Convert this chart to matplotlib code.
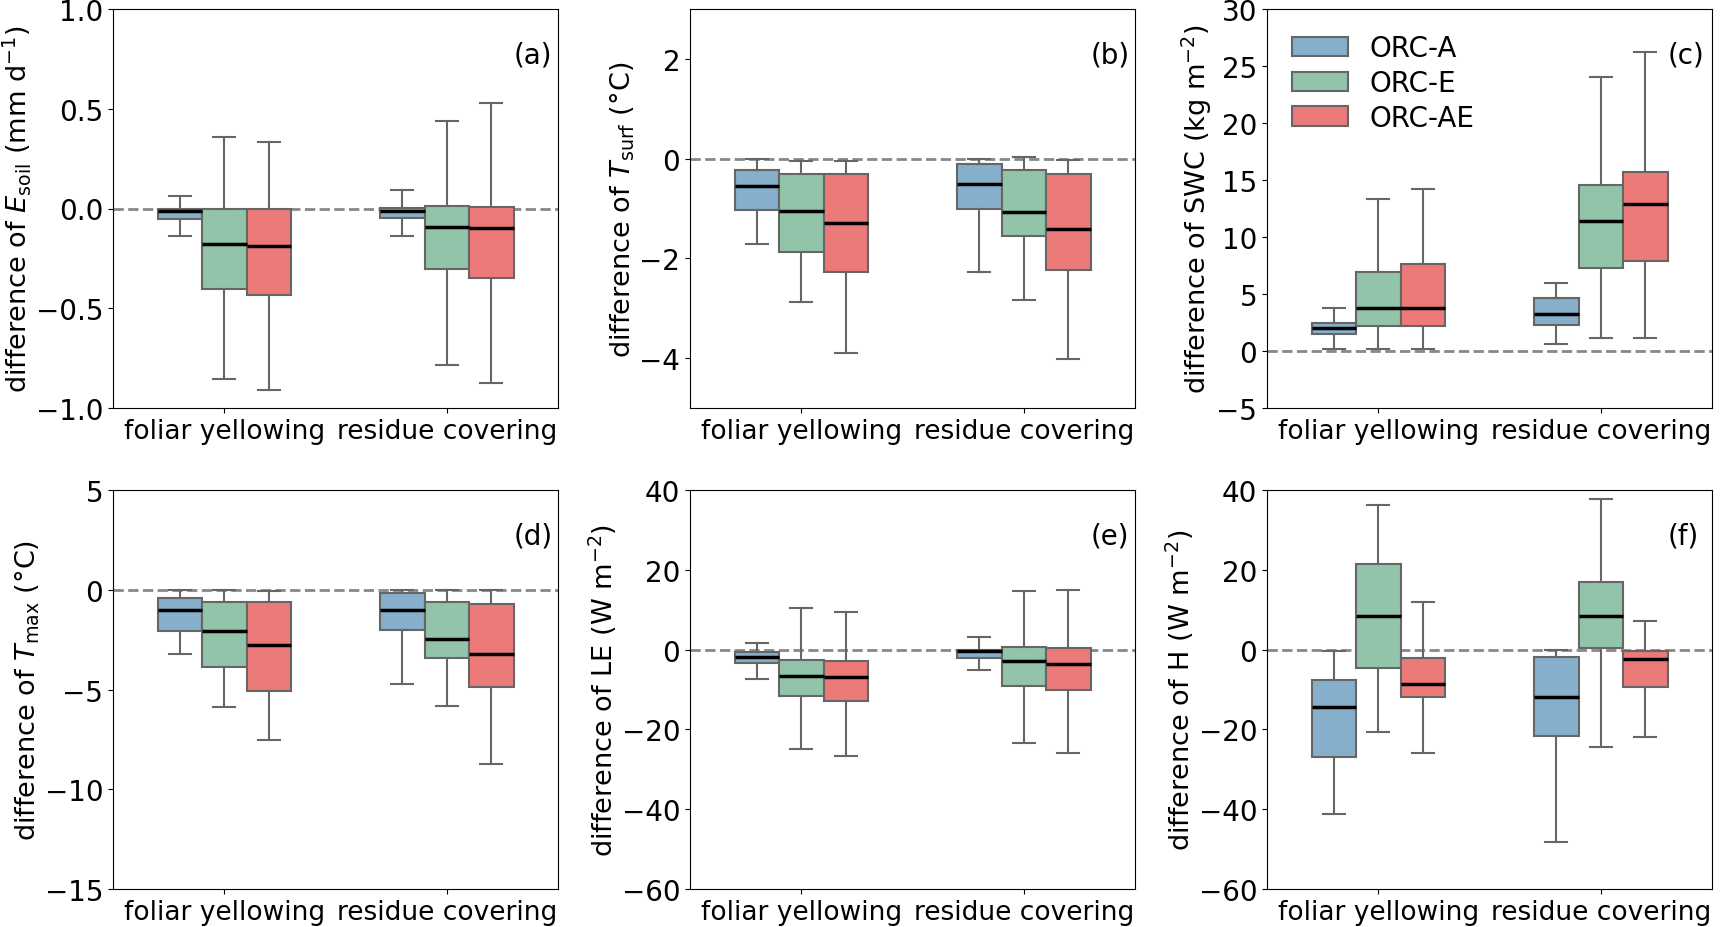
import matplotlib
matplotlib.use("Agg")
import matplotlib.pyplot as plt
from matplotlib.patches import Patch

# ---------------- data ----------------
categories = ["foliar yellowing", "residue covering"]
models = ["ORC-A", "ORC-E", "ORC-AE"]
colors = ["#86AFCB", "#92C4A9", "#EC7A79"]

# each list: [model][category]  (ORC-A, ORC-E, ORC-AE) x (foliar, residue)
# (a) E_soil
esoil_q1 = [[-0.053, -0.050], [-0.406, -0.304], [-0.434, -0.346]]
esoil_med = [[-0.012, -0.012], [-0.177, -0.092], [-0.187, -0.100]]
esoil_q3 = [[-0.003, 0.005], [0.000, 0.015], [0.000, 0.010]]
esoil_lo = [[-0.140, -0.140], [-0.853, -0.785], [-0.910, -0.876]]
esoil_hi = [[0.065, 0.095], [0.359, 0.437], [0.331, 0.528]]

# (b) T_surf
tsurf_q1 = [[-1.04, -1.02], [-1.87, -1.56], [-2.27, -2.23]]
tsurf_med = [[-0.54, -0.50], [-1.05, -1.07], [-1.30, -1.42]]
tsurf_q3 = [[-0.22, -0.11], [-0.31, -0.23], [-0.31, -0.31]]
tsurf_lo = [[-1.71, -2.28], [-2.88, -2.84], [-3.89, -4.02]]
tsurf_hi = [[-0.01, -0.01], [-0.05, 0.03], [-0.05, -0.03]]

# (c) SWC
swc_q1 = [[1.49, 2.28], [2.19, 7.31], [2.19, 7.89]]
swc_med = [[2.02, 3.25], [3.74, 11.40], [3.74, 12.87]]
swc_q3 = [[2.46, 4.65], [6.96, 14.59], [7.66, 15.70]]
swc_lo = [[0.18, 0.64], [0.18, 1.14], [0.18, 1.14]]
swc_hi = [[3.77, 5.96], [13.33, 24.00], [14.20, 26.26]]

# (d) T_max
tmax_q1 = [[-2.07, -2.02], [-3.88, -3.41], [-5.10, -4.85]]
tmax_med = [[-0.99, -0.99], [-2.09, -2.46], [-2.78, -3.21]]
tmax_q3 = [[-0.43, -0.15], [-0.59, -0.59], [-0.59, -0.70]]
tmax_lo = [[-3.23, -4.72], [-5.89, -5.84], [-7.54, -8.75]]
tmax_hi = [[0.00, 0.00], [0.00, 0.00], [-0.08, 0.00]]

# (e) LE
le_q1 = [[-3.44, -2.18], [-11.65, -9.20], [-13.00, -10.20]]
le_med = [[-1.93, -0.42], [-6.54, -2.93], [-6.79, -3.50]]
le_q3 = [[-0.50, 0.00], [-2.60, 0.59], [-2.85, 0.42]]
le_lo = [[-7.38, -5.11], [-24.98, -23.50], [-26.70, -25.80]]
le_hi = [[1.68, 3.19], [10.40, 14.75], [9.39, 14.90]]

# (f) H
h_q1 = [[-26.9, -21.7], [-4.67, 0.42], [-11.94, -9.27]]
h_med = [[-14.36, -12.0], [8.35, 8.50], [-8.68, -2.42]]
h_q3 = [[-7.68, -1.92], [21.40, 16.86], [-2.17, -0.42]]
h_lo = [[-41.2, -48.2], [-20.7, -24.4], [-25.96, -22.0]]
h_hi = [[-0.33, -0.17], [36.3, 37.7], [11.85, 7.18]]

ylabels = [
    r"difference of $E_{\rm soil}$ (mm d$^{-1}$)",
    r"difference of $T_{\rm surf}$ (°C)",
    r"difference of SWC (kg m$^{-2}$)",
    r"difference of $T_{\rm max}$ (°C)",
    r"difference of LE (W m$^{-2}$)",
    r"difference of H (W m$^{-2}$)",
]
panel_tags = ["(a)", "(b)", "(c)", "(d)", "(e)", "(f)"]
ylims = [(-1.0, 1.0), (-5, 3), (-5, 30), (-15, 5), (-60, 40), (-60, 40)]
yticks = [
    [-1.0, -0.5, 0.0, 0.5, 1.0],
    [-4, -2, 0, 2],
    [-5, 0, 5, 10, 15, 20, 25, 30],
    [-15, -10, -5, 0, 5],
    [-60, -40, -20, 0, 20, 40],
    [-60, -40, -20, 0, 20, 40],
]
ytick_fmt = ["{:.1f}", "{:d}", "{:d}", "{:d}", "{:d}", "{:d}"]

panels = [
    (esoil_q1, esoil_med, esoil_q3, esoil_lo, esoil_hi),
    (tsurf_q1, tsurf_med, tsurf_q3, tsurf_lo, tsurf_hi),
    (swc_q1, swc_med, swc_q3, swc_lo, swc_hi),
    (tmax_q1, tmax_med, tmax_q3, tmax_lo, tmax_hi),
    (le_q1, le_med, le_q3, le_lo, le_hi),
    (h_q1, h_med, h_q3, h_lo, h_hi),
]

# ---------------- figure ----------------
plt.rcParams["font.family"] = ["DejaVu Sans"]
FS = 20
FS_X = 19
FS_Y = 19.5
W, H = 1720, 928
fig = plt.figure(figsize=(W / 100, H / 100), dpi=100)

col_left = [113, 690, 1267]
col_w = 445
row_top = [10, 491]
row_h = 399

edge = "#666666"
offsets = [-0.2, 0.0, 0.2]
bw = 0.2

for i, (q1s, meds, q3s, los, his) in enumerate(panels):
    r, c = divmod(i, 3)
    l = col_left[c] / W
    b = 1 - (row_top[r] + row_h) / H
    ax = fig.add_axes([l, b, col_w / W, row_h / H])
    ax.axhline(0, color="#888888", ls="--", lw=2, zorder=0.5)
    for m in range(3):
        stats = []
        pos = []
        for k in range(2):
            stats.append(dict(q1=q1s[m][k], med=meds[m][k], q3=q3s[m][k],
                              whislo=los[m][k], whishi=his[m][k], fliers=[]))
            pos.append(k + offsets[m])
        ax.bxp(stats, positions=pos, widths=bw, patch_artist=True,
               showfliers=False, manage_ticks=False,
               boxprops=dict(facecolor=colors[m], edgecolor=edge, linewidth=1.5),
               medianprops=dict(color="black", linewidth=2.5),
               whiskerprops=dict(color=edge, linewidth=1.5),
               capprops=dict(color=edge, linewidth=1.5))
    ax.set_xlim(-0.5, 1.5)
    ax.set_xticks([0, 1])
    ax.set_xticklabels(categories, fontsize=FS_X)
    ax.set_ylim(*ylims[i])
    ax.set_yticks(yticks[i])
    ax.set_yticklabels([ytick_fmt[i].format(v).replace("-", "\u2212") for v in yticks[i]],
                       fontsize=FS)
    ax.set_ylabel(ylabels[i], fontsize=FS_Y, labelpad=2)
    ax.text(0.9, 0.865, panel_tags[i], transform=ax.transAxes, fontsize=FS)
    if i == 2:
        handles = [Patch(facecolor=colors[m], edgecolor=edge, linewidth=1.5, label=models[m])
                   for m in range(3)]
        ax.legend(handles=handles, loc="upper left", frameon=False, fontsize=FS,
                  labelspacing=0.25, handlelength=2.0)

fig.savefig("out.png", dpi=100)
